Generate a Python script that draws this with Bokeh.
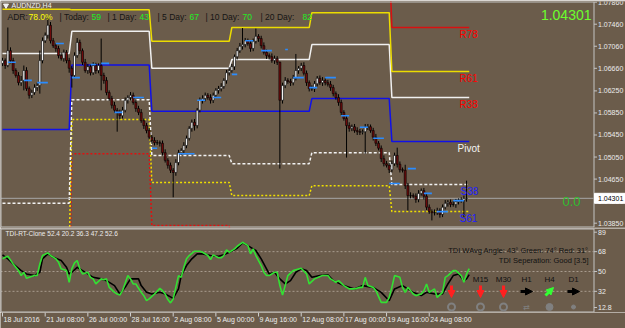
from bokeh.plotting import figure
from bokeh.layouts import column
from bokeh.models import Range1d, Arrow, NormalHead
from bokeh.core.properties import value
from bokeh.embed import file_html
from bokeh.resources import INLINE

# ----------------------------- data -----------------------------
symbol = "AUDNZD,H4"
first_open = 1.0675
closes = [
    1.0680, 1.0671, 1.0698, 1.0680, 1.0662, 1.0653, 1.0640, 1.0644, 1.0662, 1.0629,
    1.0617, 1.0622, 1.0631, 1.0635, 1.0680, 1.0716, 1.0726, 1.0744, 1.0716, 1.0707,
    1.0702, 1.0689, 1.0684, 1.0695, 1.0680, 1.0666, 1.0653, 1.0689, 1.0713, 1.0698,
    1.0677, 1.0662, 1.0669, 1.0658, 1.0671, 1.0662, 1.0671, 1.0653, 1.0644, 1.0622,
    1.0611, 1.0599, 1.0590, 1.0586, 1.0580, 1.0590, 1.0608, 1.0613, 1.0617, 1.0604,
    1.0593, 1.0586, 1.0571, 1.0562, 1.0553, 1.0541, 1.0535, 1.0531, 1.0531, 1.0530,
    1.0513, 1.0499, 1.0490, 1.0481, 1.0477, 1.0495, 1.0513, 1.0517, 1.0526, 1.0539,
    1.0557, 1.0568, 1.0562, 1.0590, 1.0608, 1.0611, 1.0617, 1.0613, 1.0608, 1.0617,
    1.0626, 1.0629, 1.0633, 1.0644, 1.0658, 1.0662, 1.0669, 1.0687, 1.0698, 1.0706,
    1.0709, 1.0716, 1.0711, 1.0702, 1.0715, 1.0724, 1.0720, 1.0707, 1.0695, 1.0689,
    1.0687, 1.0680, 1.0684, 1.0677, 1.0608, 1.0635, 1.0644, 1.0642, 1.0640, 1.0648,
    1.0662, 1.0666, 1.0671, 1.0657, 1.0640, 1.0629, 1.0629, 1.0638, 1.0648, 1.0640,
    1.0644, 1.0640, 1.0637, 1.0631, 1.0620, 1.0613, 1.0604, 1.0586, 1.0575, 1.0562,
    1.0557, 1.0560, 1.0553, 1.0551, 1.0550, 1.0551, 1.0559, 1.0560, 1.0553, 1.0541,
    1.0530, 1.0521, 1.0502, 1.0493, 1.0490, 1.0482, 1.0493, 1.0508, 1.0492, 1.0482,
    1.0481, 1.0453, 1.0435, 1.0435, 1.0434, 1.0428, 1.0439, 1.0444, 1.0434, 1.0414,
    1.0406, 1.0404, 1.0404, 1.0408, 1.0401, 1.0414, 1.0421, 1.0423, 1.0419, 1.0419,
    1.0424, 1.0426, 1.0426, 1.0430, 1.04301,
]
wick_up_pips = [
    5, 4, 42, 6, 5, 4, 6, 8, 9, 6,
    4, 5, 6, 5, 18, 6, 5, 14, 6, 5,
    4, 5, 6, 5, 4, 5, 4, 6, 8, 5,
    4, 6, 5, 4, 6, 5, 4, 49, 5, 6,
    4, 5, 6, 4, 5, 6, 5, 4, 6, 5,
    4, 5, 6, 4, 5, 5, 4, 6, 5, 4,
    5, 6, 4, 5, 4, 6, 5, 4, 6, 5,
    4, 5, 6, 4, 5, 6, 5, 4, 6, 5,
    4, 5, 6, 4, 5, 6, 5, 4, 5, 6,
    30, 5, 4, 6, 5, 14, 4, 5, 6, 5,
    4, 6, 5, 4, 1, 5, 6, 4, 5, 6,
    30, 4, 5, 6, 5, 4, 6, 5, 4, 5,
    6, 4, 5, 6, 5, 4, 6, 5, 4, 5,
    6, 4, 5, 6, 5, 4, 6, 5, 4, 5,
    6, 4, 5, 6, 5, 4, 6, 5, 14, 5,
    4, 10, 5, 6, 4, 5, 6, 4, 5, 6,
    5, 4, 6, 5, 4, 5, 6, 4, 5, 6,
    5, 4, 6, 5, 32,
]
wick_dn_pips = [
    5, 6, 3, 5, 6, 4, 5, 6, 18, 4,
    6, 5, 4, 6, 15, 5, 4, 6, 5, 4,
    6, 5, 4, 6, 5, 8, 22, 5, 4, 6,
    5, 4, 6, 5, 4, 6, 5, 27, 6, 5,
    4, 6, 5, 35, 6, 5, 4, 6, 5, 4,
    6, 5, 4, 6, 5, 4, 6, 5, 4, 6,
    5, 4, 6, 5, 45, 6, 5, 4, 6, 5,
    4, 6, 9, 5, 4, 6, 5, 4, 6, 5,
    4, 6, 5, 4, 6, 5, 4, 6, 5, 4,
    6, 5, 4, 6, 5, 4, 6, 5, 4, 6,
    5, 4, 6, 5, 124, 6, 5, 4, 6, 5,
    4, 6, 5, 4, 6, 5, 4, 6, 5, 4,
    6, 5, 4, 6, 5, 4, 6, 5, 4, 58,
    6, 5, 4, 6, 5, 4, 40, 5, 4, 6,
    5, 4, 6, 5, 4, 6, 5, 4, 6, 5,
    4, 6, 27, 5, 4, 6, 5, 4, 6, 5,
    4, 14, 5, 4, 6, 5, 4, 6, 5, 4,
    6, 5, 4, 30, 6,
]

# weekly fibonacci pivot levels
week_start_bar = [0, 26, 56, 86, 116, 146]
week_end_bar = [25, 55, 85, 115, 145, 175]
lvl_R78 = [1.0916, 1.0832, 1.0793, 1.0834, 1.0867, 1.0740]
lvl_R61 = [1.0773, 1.0772, 1.0715, 1.0740, 1.0767, 1.0660]
lvl_R38 = [1.0693, 1.0733, 1.0666, 1.0682, 1.0709, 1.0613]
lvl_P = [1.0555, 1.0672, 1.0588, 1.0588, 1.0611, 1.0533]
lvl_S38 = [1.0421, 1.0609, 1.0508, 1.0493, 1.0513, 1.0455]
lvl_S61 = [1.0332, 1.0573, 1.0459, 1.0435, 1.0453, 1.0406]
lvl_S78 = [1.0194, 1.0511, 1.0381, 1.0341, 1.0355, 1.0325]
level_names = ["R78", "R61", "R38", "Pivot", "S38", "S61"]

# short blue level marks
blue_x0 = [2, 8, 13, 20, 26, 33, 37, 42, 49, 56, 66, 73, 79, 86, 91, 97, 106, 109, 115, 121,
           127, 134, 139, 145, 152, 158, 163, 169]
blue_x1 = [5, 11, 17, 23, 29, 35, 40, 45, 53, 58, 72, 76, 82, 88, 94, 101, 107, 113, 118, 125,
           130, 137, 143, 149, 155, 161, 167, 173]
blue_price = [1.0677, 1.0644, 1.0640, 1.0711, 1.0649, 1.0673, 1.0675, 1.0586, 1.0613, 1.0521,
              1.0511, 1.0608, 1.0613, 1.0655, 1.0716, 1.0698, 1.0700, 1.0649, 1.0631, 1.0649,
              1.0580, 1.0559, 1.0539, 1.0457, 1.0484, 1.0439, 1.0406, 1.0426]

price_ticks = [1.07860, 1.07460, 1.07060, 1.06660, 1.06250, 1.05850, 1.05450,
               1.05050, 1.04650, 1.04250, 1.03850]
time_tick_bars = [0, 16, 32, 48, 64, 80, 96, 112, 128, 144, 160]
time_labels = ["18 Jul 2016", "21 Jul 08:00", "26 Jul 00:00", "28 Jul 16:00", "2 Aug 08:00",
               "5 Aug 00:00", "9 Aug 16:00", "12 Aug 08:00", "17 Aug 00:00", "19 Aug 16:00",
               "24 Aug 08:00"]

adr_names = ["ADR:", "| Today:", "| 1 Day:", "| 5 Day:", "| 10 Day:", "| 20 Day:"]
adr_values = ["78.0%", "59", "43", "67", "70", "82"]

# TDI indicator
ind_min, ind_max = 12.8, 89.0
ind_levels = [68, 50, 32]
ind_scale_labels = ["89", "68", "50", "32", "12.8"]
tdi_name = "TDI-RT-Clone"
tdi_buffers = [52.4, 20.2, 36.3, 47.2, 52.6]
green_bar = [0, 1, 2, 4, 6, 7, 8, 9, 10, 12, 13, 14, 15, 17, 18, 20, 21, 22, 24, 25,
             26, 27, 28, 29, 30, 32, 33, 34, 35, 37, 38, 39, 40, 42, 43, 44, 45, 47, 48, 49,
             50, 52, 53, 54, 55, 57, 59, 60, 61, 62, 63, 64, 66, 67, 68, 69, 70, 72, 74, 75,
             77, 78, 79, 81, 82, 83, 84, 85, 87, 88, 90, 92, 93, 94, 95, 97, 98, 99, 100, 102,
             103, 104, 105, 106, 107, 109, 112, 114, 115, 117, 120, 122, 123, 125, 126, 128, 130, 132, 134, 135,
             136, 137, 139, 140, 142, 144, 145, 146, 147, 149, 150, 151, 152, 154, 155, 157, 158, 159, 160, 162,
             163, 165, 166, 167, 169, 170, 172, 173, 174, 175]
green_val = [61.5, 62.9, 63.8, 56.9, 50.8, 46.3, 49.3, 43.8, 44.7, 46.3,
             46.3, 56.9, 64.5, 66.9, 64.5, 61.5, 58.4, 52.4, 50.8, 40.2,
             52.4, 57.8, 59.9, 52.4, 47.8, 49.3, 44.7, 43.3, 38.7, 43.3,
             42.6, 43.3, 35.6, 31.1, 29.6, 28.7, 32.6, 46.3, 43.3, 38.7,
             38.7, 31.1, 28.1, 23.5, 25.1, 29.6, 34.7, 32.6, 29.6, 24.5,
             21.5, 25.1, 46.3, 44.7, 53.8, 61.5, 64.5, 68.4, 68.4, 67.5,
             64.5, 60.8, 65.1, 62.4, 62.4, 64.5, 69.6, 67.5, 70.5, 72.9,
             76.5, 73.5, 66.0, 70.5, 64.5, 55.4, 49.3, 46.3, 46.3, 49.3,
             49.3, 37.2, 28.7, 37.2, 46.3, 50.8, 52.9, 47.8, 38.7, 43.3,
             46.3, 46.3, 43.3, 40.2, 41.7, 37.2, 34.2, 34.2, 35.6, 35.6,
             44.7, 37.2, 35.6, 32.6, 22.0, 22.0, 26.5, 35.6, 46.3, 44.7,
             35.6, 31.1, 35.6, 29.6, 28.1, 29.6, 32.6, 38.7, 31.1, 34.2,
             26.5, 31.1, 44.7, 46.3, 50.8, 50.8, 46.3, 40.2, 47.8, 52.6]
sig_bar = [0, 2, 4, 7, 9, 12, 14, 15, 17, 19, 22, 24, 25, 26, 28, 30, 32, 34, 37, 39,
           42, 44, 46, 48, 51, 52, 54, 56, 59, 61, 64, 66, 67, 69, 71, 73, 75, 78, 81, 83,
           85, 88, 90, 92, 95, 97, 99, 100, 102, 104, 106, 108, 110, 112, 114, 116, 119, 122, 124, 128,
           132, 135, 139, 142, 145, 147, 150, 154, 157, 159, 162, 165, 167, 169, 171, 173, 174, 175]
sig_val = [65.1, 61.5, 56.9, 50.8, 47.8, 46.3, 49.3, 61.5, 66.0, 62.9,
           59.9, 53.8, 47.8, 49.3, 53.8, 50.8, 47.8, 44.7, 43.3, 41.7,
           37.2, 29.6, 35.6, 43.3, 43.3, 37.2, 31.1, 29.6, 31.1, 29.6,
           25.6, 34.2, 46.3, 55.4, 61.5, 66.0, 66.0, 64.5, 63.8, 65.1,
           67.5, 71.1, 76.0, 73.5, 69.0, 61.5, 52.4, 47.8, 49.3, 43.3,
           38.7, 41.7, 49.3, 52.4, 50.8, 44.7, 46.3, 46.9, 41.7, 37.2,
           34.2, 37.2, 35.6, 31.1, 23.5, 34.2, 37.2, 31.1, 28.1, 31.1,
           29.6, 29.6, 38.7, 46.3, 47.8, 41.7, 43.3, 47.2]
wavg_angle, green_angle, red_angle = 43, 74, 31
separation = "Good [3.5]"
tf_names = ["", "M15", "M30", "H1", "H4", "D1"]
tf_trend = ["down", "down", "down", "flat", "up", "flat"]
tf_state = ["ring", "ring", "ring", "swap", "dot", "small"]

# ----------------------------- layout helpers -----------------------------
BG = "#6b5c4b"
FONT = "Liberation Sans"
FRAME = "#c4c4c4"
SCALE_TXT = "#ececec"
BAR_PX = 2.667
PX_PER_PRICE = 5512.0
TOP_PRICE = 1.0789
IND_TOP = 228.0
IND_PX_PER_UNIT = 84.0 / (ind_max - ind_min)


def bx(px):
    return (px - 2.0) / BAR_PX


def py(pix):
    return TOP_PRICE - pix / PX_PER_PRICE


def iv(pix):
    return ind_max - (pix - IND_TOP) / IND_PX_PER_UNIT


def txt(f, xs, ys, texts, color, size, align="left", baseline="middle", **kw):
    f.text(x=xs, y=ys, text=texts, text_color=color, text_font=value(FONT),
           text_font_size=size, text_align=align, text_baseline=baseline, **kw)


x_rng = Range1d(bx(0), bx(625))


def new_fig(h, y_rng, top=0, bottom=0):
    f = figure(width=625, height=h, x_range=x_rng, y_range=y_rng, output_backend="svg",
               toolbar_location=None, x_axis_location=None, y_axis_location=None,
               min_border_left=0, min_border_right=0, min_border_top=top,
               min_border_bottom=bottom, background_fill_color=BG, border_fill_color=BG,
               outline_line_color=None)
    f.xgrid.visible = False
    f.ygrid.visible = False
    return f


def price_scale(f, ticks, labels, ymap, top_px, bot_px):
    # border of the chart area + right-hand value scale
    f.line(x=[bx(593.5), bx(0.5), bx(0.5), bx(593.5), bx(593.5)],
           y=[ymap(top_px), ymap(top_px), ymap(bot_px), ymap(bot_px), ymap(top_px)],
           line_color=FRAME, line_width=1)
    k = len(ticks)
    f.segment(x0=[bx(593.5)] * k, y0=ticks, x1=[bx(596.5)] * k, y1=ticks,
              line_color=FRAME, line_width=1)
    txt(f, [bx(597.5)] * k, ticks, labels, SCALE_TXT, "7px")


# ----------------------------- main chart -----------------------------
p = new_fig(228, Range1d(py(227), py(1)), top=1, bottom=1)

def step_xy(levels):
    xs, ys = [], []
    for s, e, lv in zip(week_start_bar, week_end_bar, levels):
        xs += [s, e]
        ys += [lv, lv]
    return xs, ys


for levels, color, dash in [(lvl_S78, "#e01010", "2 2"), (lvl_S61, "#f0e000", "2 2"),
                            (lvl_S38, "#f2f2f2", "3 2"), (lvl_P, "#1010e8", "solid"),
                            (lvl_R38, "#f0f0f0", "solid"), (lvl_R61, "#ecdc00", "solid"),
                            (lvl_R78, "#d81010", "solid")]:
    xs, ys = step_xy(levels)
    p.line(xs, ys, line_color=color, line_width=1.5, line_dash=dash)

# current price line (chart area only)
p.segment(x0=[bx(0)], y0=[closes[-1]], x1=[bx(593)], y1=[closes[-1]],
          line_color="#a6a6a6", line_width=1)

# candles
opens = [first_open] + closes[:-1]
bars = list(range(len(closes)))
highs = [max(o, c) + u * 0.0001 for o, c, u in zip(opens, closes, wick_up_pips)]
lows = [min(o, c) - d * 0.0001 for o, c, d in zip(opens, closes, wick_dn_pips)]
tops = [max(o, c) for o, c in zip(opens, closes)]
bots = [min(o, c) for o, c in zip(opens, closes)]
fills = ["#f6f6f6" if c >= o else "#6e0b0b" for o, c in zip(opens, closes)]
p.segment(x0=bars, y0=lows, x1=bars, y1=highs, line_color="black", line_width=1)
p.vbar(x=bars, top=tops, bottom=bots, width=0.75, fill_color=fills, line_color="black",
       line_width=0.6)

# blue marks
p.segment(x0=blue_x0, y0=blue_price, x1=blue_x1, y1=blue_price, line_color="#2a8cff",
          line_width=1.6)

# level labels (last week)
last_levels = [lvl_R78[-1], lvl_R61[-1], lvl_R38[-1], lvl_P[-1], lvl_S38[-1], lvl_S61[-1]]
label_colors = ["#ff0000", "#ff0000", "#ff0000", "#f4f4f4", "#1e1eff", "#1e1eff"]
label_px = [459, 459, 459, 457, 460, 459]
txt(p, [bx(v) for v in label_px], last_levels, level_names, label_colors, "10px",
    baseline="top", y_offset=1)

# title
p.scatter(x=[bx(5.5)], y=[py(5)], marker="inverted_triangle", size=5,
          fill_color="#f0f0f0", line_color="#f0f0f0")
txt(p, [bx(11)], [py(5)], [symbol], "#f0f0f0", "7px")

# ADR row
name_px = [7, 59, 107, 157, 205, 260]
val_px = [28, 91, 139, 189, 242, 302]
txt(p, [bx(v) for v in name_px], [py(16.5)] * len(adr_names), adr_names, "#151515", "8.5px")
txt(p, [bx(v) for v in val_px], [py(16.5)] * len(adr_values), adr_values,
    ["#ffff00"] + ["#22ee22"] * (len(adr_values) - 1), "8.5px")

# big price and 0.0
txt(p, [bx(591)], [py(14)], [f"{closes[-1]:.5f}"], "#6cff2c", "14px", align="right")
txt(p, [bx(580)], [py(200.5)], ["0.0"], "#2fbf2f", "13px", align="right")

# price scale with current price box
price_scale(p, price_ticks, [f"{t:.5f}" for t in price_ticks], py, 1.5, 226.5)
p.quad(left=[bx(594)], right=[bx(625)], top=[closes[-1] + 5.0 / PX_PER_PRICE],
       bottom=[closes[-1] - 5.0 / PX_PER_PRICE], fill_color="white", line_color="white")
txt(p, [bx(597.5)], [closes[-1]], [f"{closes[-1]:.5f}"], "black", "7px")

# ----------------------------- TDI panel -----------------------------
q = new_fig(84, Range1d(ind_min, ind_max))

q.segment(x0=[bx(0)] * len(ind_levels), y0=ind_levels, x1=[bx(593)] * len(ind_levels),
          y1=ind_levels, line_color="#a89c8e", line_width=1, line_dash="2 2")
q.line(sig_bar, sig_val, line_color="black", line_width=1.6)
q.line(green_bar, green_val, line_color="#33e033", line_width=1.6)

scale_pos = [iv(231.7)] + ind_levels + [iv(307)]
price_scale(q, scale_pos, ind_scale_labels, iv, 228.5, 311.5)

txt(q, [bx(5)], [iv(233)],
    [tdi_name + " " + " ".join(f"{v:.1f}" for v in tdi_buffers)], SCALE_TXT, "6.5px")
txt(q, [bx(588), bx(588)], [iv(249.5), iv(259.5)],
    [f"TDI WAvg Angle: {wavg_angle}\u00b0 Green: {green_angle}\u00b0 Red: {red_angle}\u00b0",
     f"TDI Seperation: {separation}"], "#111111", "7.5px", align="right")

tf_px = [451, 480, 503, 526, 549, 573]
txt(q, [bx(v) for v in tf_px], [iv(278.5)] * len(tf_px), tf_names, "#111111", "8px",
    align="center")

arrow_geo = {"down": ((0, -6), (0, 6), "#ff2020"),
             "flat": ((-6, 0), (6, 0), "#000000"),
             "up": ((-4, 4), (4, -4), "#33ff33")}
for cx, tr in zip(tf_px, tf_trend):
    (dx0, dy0), (dx1, dy1), col = arrow_geo[tr]
    q.add_layout(Arrow(x_start=bx(cx + dx0), y_start=iv(291 + dy0),
                       x_end=bx(cx + dx1), y_end=iv(291 + dy1),
                       line_color=col, line_width=3,
                       end=NormalHead(size=7, fill_color=col, line_color=col)))

for cx, st in zip(tf_px, tf_state):
    if st == "ring":
        q.scatter(x=[bx(cx)], y=[iv(306.5)], marker="circle", size=7, fill_color=None,
                  line_color="#808080", line_width=2)
    elif st == "dot":
        q.scatter(x=[bx(cx)], y=[iv(306.5)], marker="circle", size=7, fill_color="#808080",
                  line_color="#808080")
    elif st == "small":
        q.scatter(x=[bx(cx)], y=[iv(306.5)], marker="circle", size=4, fill_color="#808080",
                  line_color="#808080")
    else:
        q.text(x=[bx(cx)], y=[iv(306.5)], text=["\u21c4"], text_color="#808080",
               text_font=value("DejaVu Sans"), text_font_size="8px", text_align="center",
               text_baseline="middle")

# ----------------------------- time strip -----------------------------
s = new_fig(16, Range1d(16, 0))
n = len(time_tick_bars)
s.segment(x0=time_tick_bars, y0=[0] * n, x1=time_tick_bars, y1=[4] * n,
          line_color="#d0d0d0", line_width=1)
txt(s, [b + 0.4 for b in time_tick_bars], [6.5] * n, time_labels, SCALE_TXT, "7px")

layout = column(p, q, s, spacing=0)
html = file_html(layout, INLINE)
html = html.replace("<body>", '<body style="margin:0;padding:0;background:%s">' % BG, 1)
open("out.html", "w").write(html)
